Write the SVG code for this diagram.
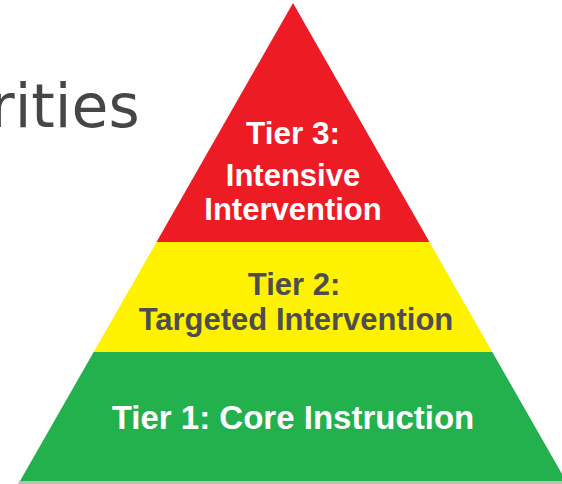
<svg xmlns="http://www.w3.org/2000/svg" width="562" height="484" viewBox="0 0 562 484">
<style>
.t{font-family:"Liberation Sans",Arial,sans-serif;font-weight:bold;text-anchor:middle}
.w{fill:#ffffff}
.g{fill:#4d4d4d}
</style>
<rect width="562" height="484" fill="#ffffff"/>
<text x="-10" y="127" font-family="DejaVu Sans, sans-serif" font-size="60" fill="#464646">rities</text>
<g id="shadow"><polygon points="19,481 567,481 568,485 18,485" fill="#bdbdbd"/></g>
<g id="tier3">
<polygon points="293,3 429.5,242 156.5,242" fill="#ED1C24"/>
<text class="t w" x="293" y="144" font-size="31.5">Tier 3:</text>
<text class="t w" x="293" y="186" font-size="31">Intensive</text>
<text class="t w" x="293" y="220" font-size="31">Intervention</text>
</g>
<g id="tier2">
<polygon points="156.5,242 429.5,242 492.3,352 93.7,352" fill="#FFF200"/>
<text class="t g" x="294" y="295" font-size="31">Tier 2:</text>
<text class="t g" x="296" y="330" font-size="31">Targeted Intervention</text>
</g>
<g id="tier1">
<polygon points="93.7,352 492.3,352 566,481 20,481" fill="#22B14C"/>
<text class="t w" x="293" y="429" font-size="33">Tier 1: Core Instruction</text>
</g>
</svg>
